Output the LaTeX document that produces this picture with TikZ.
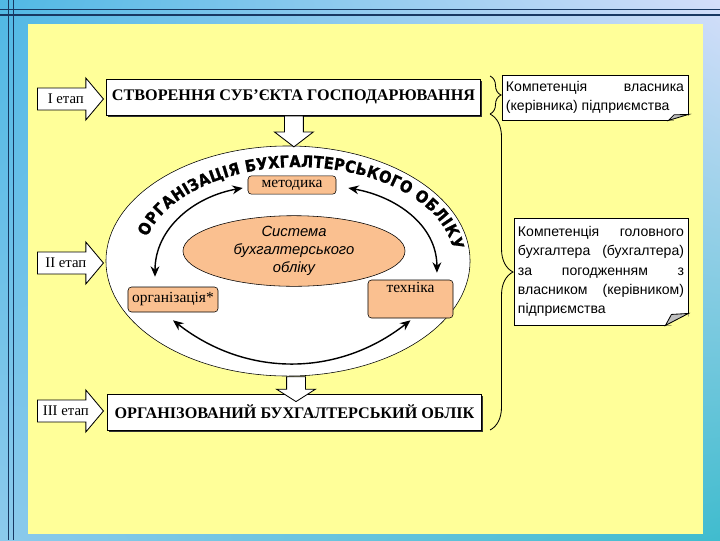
\documentclass[tikz,border=0pt]{standalone}
\usepackage{fontspec}
\setmainfont{Liberation Serif}
\setsansfont{Liberation Sans}
\newfontfamily\arcfont[FakeStretch=0.9, FakeBold=1.2]{DejaVu Sans}
\usepackage{tikz}
\usetikzlibrary{shapes}
\usetikzlibrary{shapes.arrows}
\usetikzlibrary{positioning}
\usetikzlibrary{arrows.meta}
\usetikzlibrary{shadows}
\usetikzlibrary{shadings}
\usetikzlibrary{decorations.text}
\usetikzlibrary{decorations.pathreplacing}
\definecolor{panely}{RGB}{255,255,153}
\definecolor{peach}{RGB}{250,192,144}
\definecolor{navyl}{RGB}{24,56,98}
\definecolor{bgul}{RGB}{80,184,228}
\definecolor{bgur}{RGB}{212,222,250}
\definecolor{bgll}{RGB}{140,202,236}
\definecolor{bglr}{RGB}{64,188,206}
\tikzset{
    stagebox/.style = {rectangle, draw=black, semithick, fill=white, minimum width=93.5mm, minimum height=9mm, inner sep=0pt, font=\bfseries\fontsize{11.5}{13}\selectfont, drop shadow={shadow xshift=0.45mm, shadow yshift=-0.45mm, opacity=1, fill=black!80}},
    stagearrow/.style = {single arrow, draw=black, semithick, fill=white, anchor=tail, single arrow head extend=2.5mm, single arrow tip angle=100, minimum height=16.5mm, inner xsep=1pt, inner ysep=3.6pt, text height=7.4pt, text depth=0.4pt, font=\fontsize{10.5}{12}\selectfont},
    downarrow/.style = {single arrow, draw=black, semithick, fill=white, anchor=tail, rotate=-90, single arrow head extend=2.5mm, single arrow tip angle=105, inner sep=2.25mm, text height=0pt, text depth=0pt},
    partbox/.style = {rectangle, rounded corners=2.5pt, draw=black, fill=peach, inner sep=1pt, font=\fontsize{11}{13}\selectfont},
    coreell/.style = {ellipse, draw=black, fill=peach, inner sep=0pt, minimum width=55.5mm, minimum height=17mm, align=center, font=\sffamily\itshape\fontsize{10.5}{13}\selectfont},
    outerell/.style = {ellipse, draw=black, fill=white, minimum width=91mm, minimum height=57.5mm},
    notebox/.style = {rectangle, draw=black, semithick, fill=white, inner sep=1mm, align=justify, execute at begin node={\hyphenpenalty=10000\relax}},
    notefold/.style = {draw=black, semithick, fill=black!25},
    edgec/.style = {{Stealth[length=2.6mm,width=2.2mm]}-{Stealth[length=2.6mm,width=2.2mm]}, line width=1pt, black},
    bracen/.style = {decorate, decoration={brace, amplitude=#1}, semithick},
    frameline/.style = {navyl, line width=1.1pt},
}

\begin{document}
\begin{tikzpicture}[x=0.025cm, y=0.025cm]
\useasboundingbox (0,0) rectangle (720,-540);
\shade[upper left=bgul, upper right=bgur, lower left=bgll, lower right=bglr] (0,0) rectangle (720,-540);
\draw[frameline] (0,-9.5) -- (720,-9.5);
\draw[frameline] (0,-15) -- (720,-15);
\draw[frameline] (8.7,0) -- (8.7,-540);
\draw[frameline] (13.3,0) -- (13.3,-540);
\fill[panely] (28,-24) rectangle (703,-534);

% stages
\node[stagebox] at (293.5, -97) (create) {СТВОРЕННЯ СУБ’ЄКТА ГОСПОДАРЮВАННЯ};
\node[outerell] at (288, -261) (outer) {};
\node[stagebox] at (294.5, -412) (done) {ОРГАНІЗОВАНИЙ БУХГАЛТЕРСЬКИЙ ОБЛІК};
\node[downarrow, minimum height=7.75mm] at ([xshift=0.1mm]create.south) (down1) {};
\node[downarrow, minimum height=4.75mm, single arrow tip angle=115] at ([xshift=2mm]outer.south) (down2) {};

\node[stagearrow] at (37, -99)  (st1) {I етап};
\node[stagearrow] at (37, -263) (st2) {II етап};
\node[stagearrow] at (37, -411) (st3) {III етап};

% arc title
\path[color=black, decorate, decoration={text along path, text align=center, raise=3.5pt,
      text={|\arcfont\bfseries\fontsize{11.5}{11.5}\selectfont|ОРГАНІЗАЦІЯ БУХГАЛТЕРСЬКОГО ОБЛІКУ}}]
      (298,-261) ++(166:151 and 89) arc[start angle=166, end angle=6, x radius=151, y radius=89];

\node[partbox, minimum width=22mm, minimum height=4.6mm] at (292, -185) (metod) {методика};
\node[coreell] at (294, -251) (core) {Система\\бухгалтерського\\обліку};
\node[partbox, minimum width=22.5mm, minimum height=6.25mm] at (173, -299.5) (org) {організація*};
\node[partbox, minimum width=21.25mm, minimum height=9.5mm, align=center] at (410.5, -299) (tech) {техніка\\\strut};

\draw[edgec] ([xshift=-1.25mm, yshift=-0.75mm]metod.west) to[out=190, in=90] ([xshift=-4.5mm, yshift=2.5mm]org.north);
\draw[edgec] ([xshift=3mm, yshift=-0.75mm]metod.east) to[out=-10, in=90] ([xshift=6.6mm, yshift=1.75mm]tech.north);
\draw[edgec] ([yshift=-2mm]org.south) to[out=-38, in=-142] ([yshift=-0.5mm]tech.south);

% competences
\node[notebox, text width=44.5mm, minimum height=11.25mm, font=\sffamily\fontsize{10}{14}\selectfont] at (595, -97.5) (own) {Компетенція власника\linebreak (керівника) підприємства};
\fill[panely] ([xshift=-5mm]own.south east) -- ([xshift=0.3mm, yshift=-0.3mm]own.south east) -- ([yshift=1.5mm]own.south east) -- cycle;
\draw[notefold] ([xshift=-5mm]own.south east) -- ([yshift=1.5mm]own.south east) -- ([xshift=-3.6mm, yshift=1.4mm]own.south east) -- cycle;

\node[notebox, text width=41.5mm, minimum height=26.75mm, font=\sffamily\fontsize{10}{13.7}\selectfont] at (601, -271.5) (chief) {Компетенція головного\linebreak бухгалтера (бухгалтера)\linebreak за погодженням з\linebreak власником (керівником)\linebreak підприємства};
\fill[panely] ([xshift=-5.75mm]chief.south east) -- ([xshift=0.3mm, yshift=-0.3mm]chief.south east) -- ([yshift=3mm]chief.south east) -- cycle;
\draw[notefold] ([xshift=-5.75mm]chief.south east) -- ([yshift=3mm]chief.south east) -- ([xshift=-4.25mm, yshift=2.75mm]chief.south east) -- cycle;

\coordinate (b1top) at (490, -76);
\coordinate (b1bot) at (490, -114);
\coordinate (b2bot) at (490, -430);
\draw[bracen=2.75mm] (b1top) -- (b1bot);
\draw[bracen=5.75mm] (b1bot) -- (b2bot);

\end{tikzpicture}
\end{document}
